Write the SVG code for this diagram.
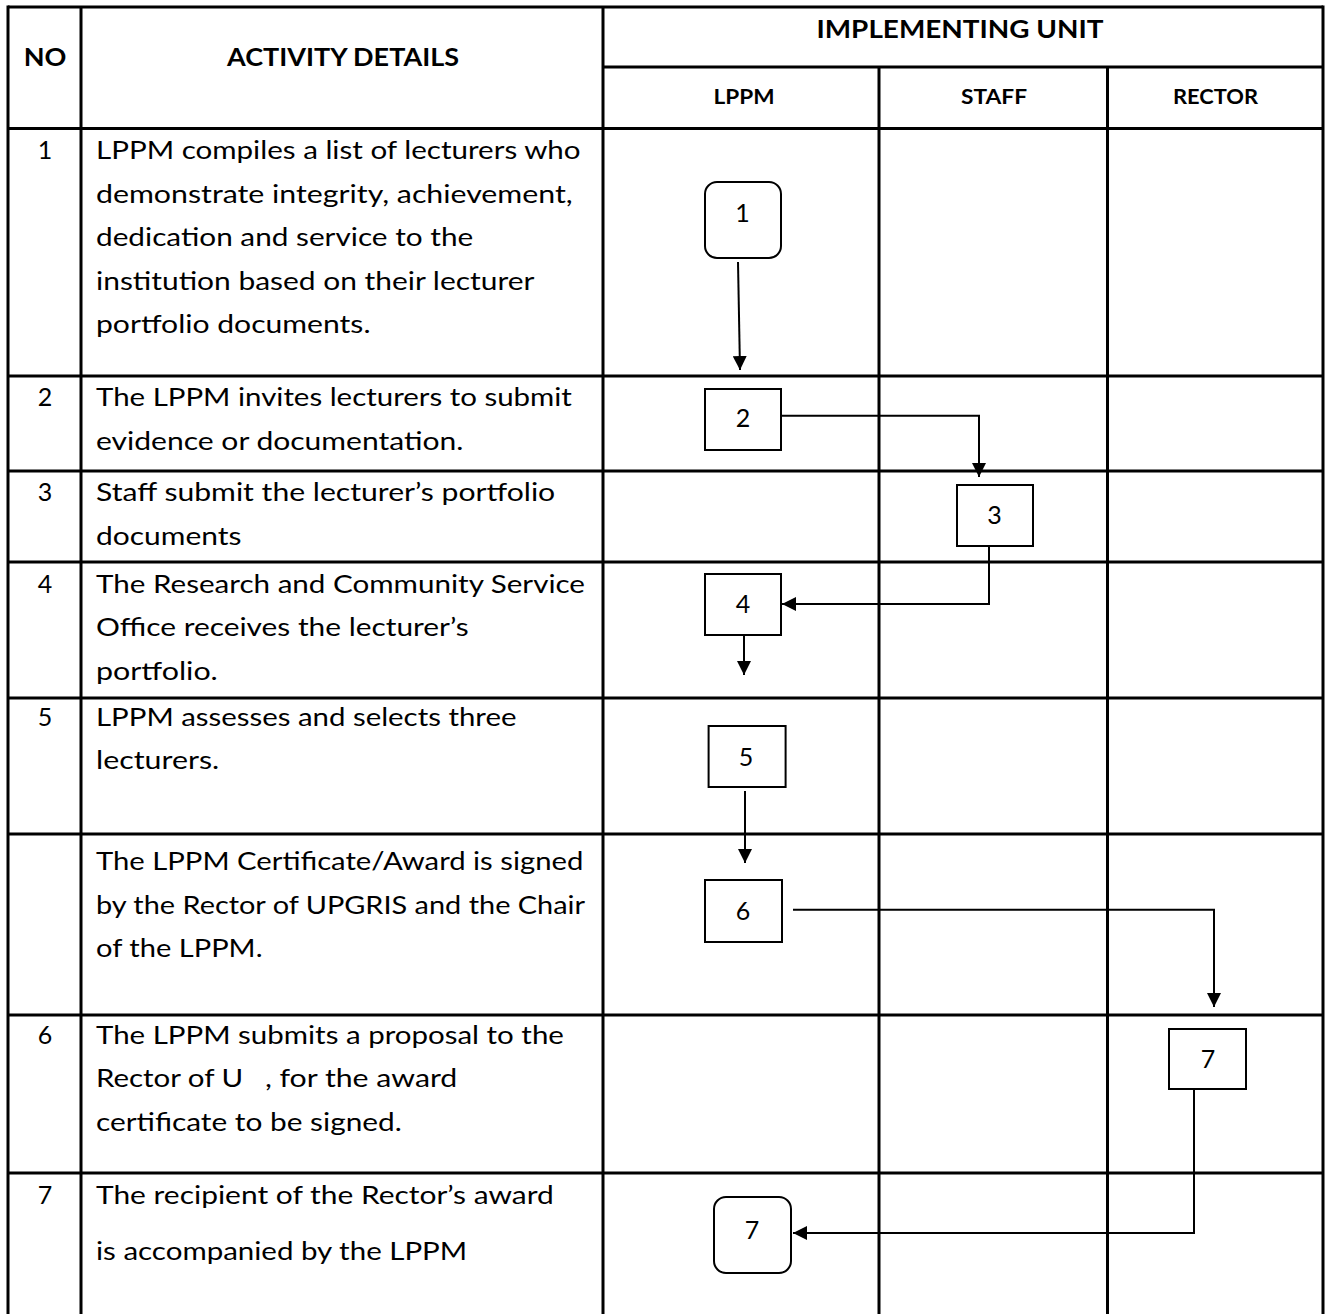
<svg xmlns="http://www.w3.org/2000/svg" width="1330" height="1314" viewBox="0 0 1330 1314">
  <style>
    .grid { stroke: #000; stroke-width: 3; fill: none; }
    .box { fill: #fff; stroke: #000; stroke-width: 2; }
    .conn { stroke: #000; stroke-width: 2; fill: none; marker-end: url(#arrow); }
    .txt { font-family: Lato, "Liberation Sans", sans-serif; font-size: 25px; fill: #000; }
    .hdr { font-family: Lato, "Liberation Sans", sans-serif; font-size: 25px; font-weight: bold; fill: #000; }
    .sub { font-family: Lato, "Liberation Sans", sans-serif; font-size: 21.5px; font-weight: bold; fill: #000; }
    .mid { text-anchor: middle; }
  </style>
  <defs>
    <marker id="arrow" markerUnits="userSpaceOnUse" markerWidth="14" markerHeight="14" refX="14" refY="7" orient="auto">
      <path d="M0,0 L14,7 L0,14 Z" fill="#000"/>
    </marker>
  </defs>

  <rect width="1330" height="1314" fill="#fff"/>

  <!-- table grid -->
  <g id="table-grid" class="grid">
    <line x1="8" y1="7" x2="1323" y2="7"/>
    <line x1="603" y1="67" x2="1323" y2="67"/>
    <line x1="8" y1="128.5" x2="1323" y2="128.5"/>
    <line x1="8" y1="376" x2="1323" y2="376"/>
    <line x1="8" y1="471" x2="1323" y2="471"/>
    <line x1="8" y1="562" x2="1323" y2="562"/>
    <line x1="8" y1="698" x2="1323" y2="698"/>
    <line x1="8" y1="834" x2="1323" y2="834"/>
    <line x1="8" y1="1015" x2="1323" y2="1015"/>
    <line x1="8" y1="1173" x2="1323" y2="1173"/>
    <line x1="8" y1="5.5" x2="8" y2="1314"/>
    <line x1="81" y1="7" x2="81" y2="1314"/>
    <line x1="603" y1="7" x2="603" y2="1314"/>
    <line x1="879" y1="67" x2="879" y2="1314"/>
    <line x1="1107.5" y1="67" x2="1107.5" y2="1314"/>
    <line x1="1323" y1="5.5" x2="1323" y2="1314"/>
  </g>

  <!-- header labels -->
  <g id="header">
    <text class="hdr mid" x="45" y="66" textLength="42.7" lengthAdjust="spacingAndGlyphs">NO</text>
    <text class="hdr mid" x="343" y="66" textLength="232" lengthAdjust="spacingAndGlyphs">ACTIVITY DETAILS</text>
    <text class="hdr mid" x="960" y="38" textLength="287" lengthAdjust="spacingAndGlyphs">IMPLEMENTING UNIT</text>
    <text class="sub mid" x="744" y="104" textLength="61" lengthAdjust="spacingAndGlyphs">LPPM</text>
    <text class="sub mid" x="994" y="104" textLength="66" lengthAdjust="spacingAndGlyphs">STAFF</text>
    <text class="sub mid" x="1215.5" y="104" textLength="85" lengthAdjust="spacingAndGlyphs">RECTOR</text>
  </g>

  <!-- row numbers -->
  <g id="row-numbers" class="txt mid">
    <text x="45" y="159">1</text>
    <text x="45" y="406">2</text>
    <text x="45" y="501">3</text>
    <text x="45" y="592.5">4</text>
    <text x="45" y="725.5">5</text>
    <text x="45" y="1043.5">6</text>
    <text x="45" y="1203.5">7</text>
  </g>

  <!-- activity details -->
  <g id="activity-details" class="txt">
    <text x="96" y="159" textLength="484.6" lengthAdjust="spacingAndGlyphs">LPPM compiles a list of lecturers who</text>
    <text x="96" y="202.5" textLength="476.7" lengthAdjust="spacingAndGlyphs">demonstrate integrity, achievement,</text>
    <text x="96" y="246" textLength="377.2" lengthAdjust="spacingAndGlyphs">dedication and service to the</text>
    <text x="96" y="289.5" textLength="438.4" lengthAdjust="spacingAndGlyphs">institution based on their lecturer</text>
    <text x="96" y="333" textLength="274.5" lengthAdjust="spacingAndGlyphs">portfolio documents.</text>

    <text x="96" y="406" textLength="475.9" lengthAdjust="spacingAndGlyphs">The LPPM invites lecturers to submit</text>
    <text x="96" y="449.5" textLength="367.4" lengthAdjust="spacingAndGlyphs">evidence or documentation.</text>

    <text x="96" y="501" textLength="459.2" lengthAdjust="spacingAndGlyphs">Staff submit the lecturer’s portfolio</text>
    <text x="96" y="544.5" textLength="145.5" lengthAdjust="spacingAndGlyphs">documents</text>

    <text x="96" y="592.5" textLength="489" lengthAdjust="spacingAndGlyphs">The Research and Community Service</text>
    <text x="96" y="636" textLength="372.6" lengthAdjust="spacingAndGlyphs">Office receives the lecturer’s</text>
    <text x="96" y="679.5" textLength="121.8" lengthAdjust="spacingAndGlyphs">portfolio.</text>

    <text x="96" y="725.5" textLength="420.5" lengthAdjust="spacingAndGlyphs">LPPM assesses and selects three</text>
    <text x="96" y="769" textLength="123.2" lengthAdjust="spacingAndGlyphs">lecturers.</text>

    <text x="96" y="870" textLength="487.3" lengthAdjust="spacingAndGlyphs">The LPPM Certificate/Award is signed</text>
    <text x="96" y="913.5" textLength="489" lengthAdjust="spacingAndGlyphs">by the Rector of UPGRIS and the Chair</text>
    <text x="96" y="957" textLength="166.5" lengthAdjust="spacingAndGlyphs">of the LPPM.</text>

    <text x="96" y="1043.5" textLength="467.9" lengthAdjust="spacingAndGlyphs">The LPPM submits a proposal to the</text>
    <text x="96" y="1087" textLength="147.2" lengthAdjust="spacingAndGlyphs">Rector of U</text>
    <text x="264.9" y="1087" textLength="192.4" lengthAdjust="spacingAndGlyphs">, for the award</text>
    <text x="96" y="1130.5" textLength="305.8" lengthAdjust="spacingAndGlyphs">certificate to be signed.</text>

    <text x="96" y="1203.5" textLength="457.7" lengthAdjust="spacingAndGlyphs">The recipient of the Rector’s award</text>
    <text x="96" y="1259.5" textLength="371.2" lengthAdjust="spacingAndGlyphs">is accompanied by the LPPM</text>
  </g>

  <!-- flow connectors -->
  <g id="connectors">
    <path class="conn" d="M738,262 L740,370"/>
    <path class="conn" d="M781,415.7 H979 V477"/>
    <path class="conn" d="M989,541 V604 H782"/>
    <path class="conn" d="M744,635 V675"/>
    <path class="conn" d="M745,791 V863"/>
    <path class="conn" d="M793,909.7 H1214 V1007"/>
    <path class="conn" d="M1194,1089 V1233 H793"/>
  </g>

  <!-- flow nodes -->
  <g id="node-1">
    <rect class="box" x="705" y="182" width="76" height="76" rx="12"/>
    <text class="txt mid" x="742.5" y="221.7">1</text>
  </g>
  <g id="node-2">
    <rect class="box" x="705" y="389" width="76" height="61"/>
    <text class="txt mid" x="743" y="427">2</text>
  </g>
  <g id="node-3">
    <rect class="box" x="957" y="485" width="76" height="61"/>
    <text class="txt mid" x="994.5" y="524">3</text>
  </g>
  <g id="node-4">
    <rect class="box" x="705" y="574" width="76" height="61"/>
    <text class="txt mid" x="743" y="613.3">4</text>
  </g>
  <g id="node-5">
    <rect class="box" x="708.6" y="726" width="77" height="61"/>
    <text class="txt mid" x="746" y="765.7">5</text>
  </g>
  <g id="node-6">
    <rect class="box" x="705" y="880" width="77" height="62"/>
    <text class="txt mid" x="743" y="920">6</text>
  </g>
  <g id="node-7-rector">
    <rect class="box" x="1169" y="1029" width="77" height="60"/>
    <text class="txt mid" x="1208" y="1068">7</text>
  </g>
  <g id="node-7-end">
    <rect class="box" x="714" y="1197" width="77" height="76" rx="12"/>
    <text class="txt mid" x="752" y="1239.3">7</text>
  </g>
</svg>
